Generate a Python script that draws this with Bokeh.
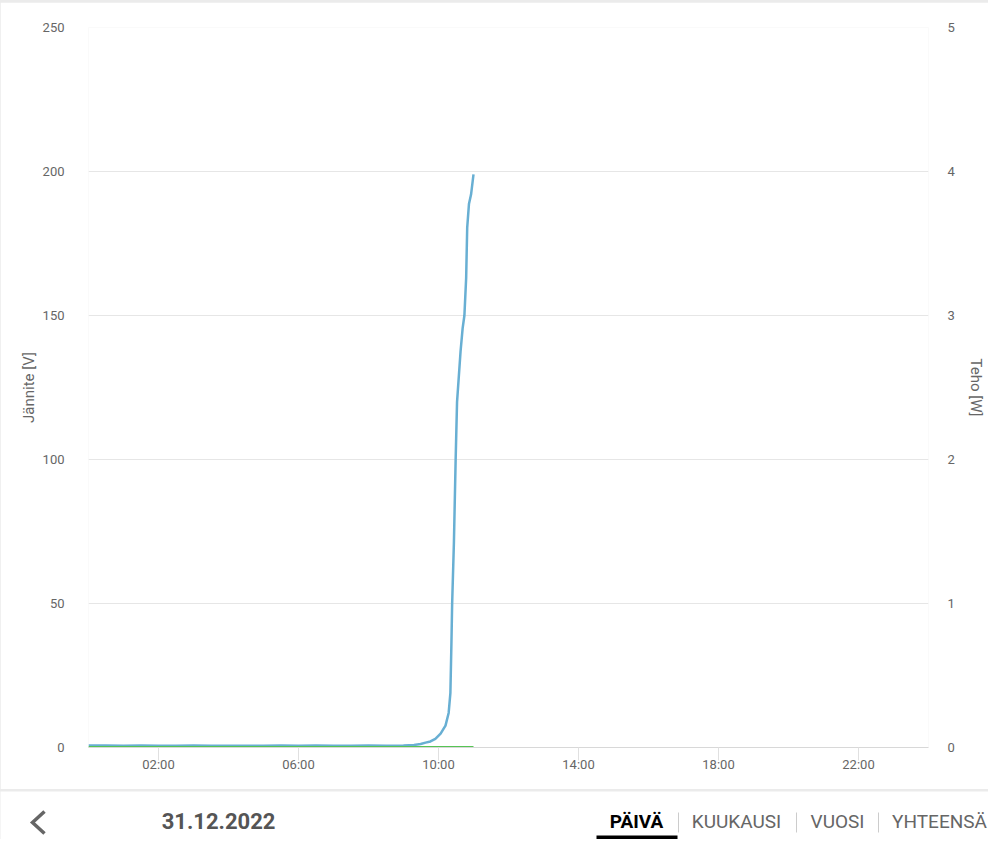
from bokeh.plotting import figure
from bokeh.models import Range1d, LinearAxis, FixedTicker, ColumnDataSource, Spacer
from bokeh.layouts import column
from bokeh.embed import file_html
from bokeh.resources import INLINE
from bokeh.core.properties import value

# ---- data ----
volt_hours = [0.0, 0.5, 1.0, 1.5, 2.0, 2.5, 3.0, 3.5, 4.0, 4.5, 5.0, 5.5, 6.0, 6.5, 7.0,
              7.5, 8.0, 8.5, 9.0, 9.3, 9.49, 9.63, 9.77, 9.91, 10.06, 10.2, 10.29, 10.34,
              10.37, 10.39, 10.44, 10.49, 10.53, 10.63, 10.69, 10.74, 10.79, 10.82,
              10.87, 10.93, 11.0]
volt_values = [0.7, 0.7, 0.6, 0.7, 0.6, 0.6, 0.7, 0.6, 0.6, 0.6, 0.6, 0.7, 0.6, 0.7, 0.6,
               0.6, 0.7, 0.6, 0.7, 0.9, 1.2, 1.7, 2.1, 3.0, 4.8, 7.6, 12.0, 19.0,
               36.6, 50.0, 71.0, 100.0, 120.0, 137.5, 145.6, 150.0, 163.0, 180.5,
               188.7, 192.0, 199.0]
power_hours = [0.0, 2.0, 4.0, 6.0, 8.0, 10.0, 11.0]
power_values = [0.0, 0.0, 0.0, 0.0, 0.0, 0.0, 0.0]

x_tick_hours = [2, 6, 10, 14, 18, 22]
x_tick_labels = ["02:00", "06:00", "10:00", "14:00", "18:00", "22:00"]
volt_ticks = [0, 50, 100, 150, 200, 250]
power_ticks = [0, 1, 2, 3, 4, 5]

left_title = "Jännite [V]"
right_title = "Teho [W]"
date_label = "31.12.2022"
tab_labels = ["PÄIVÄ", "KUUKAUSI", "VUOSI", "YHTEENSÄ"]

FONT = "Roboto"
TXT = "#666666"
W = 988

# ---- chart ----
p = figure(width=W, height=787, x_range=Range1d(0, 24), y_range=Range1d(0, 250),
           output_backend="svg", toolbar_location=None,
           min_border_left=88, min_border_right=W - 928, min_border_top=25, min_border_bottom=42)
p.frame_align = False
p.outline_line_color = None
p.background_fill_color = "white"
p.border_fill_color = "white"
p.extra_y_ranges = {"power": Range1d(0, 5)}

p.xgrid.grid_line_color = None
p.ygrid.grid_line_color = "#e6e6e6"
p.ygrid.grid_line_width = 1
p.ygrid.ticker = FixedTicker(ticks=volt_ticks)

xa = p.xaxis[0]
xa.ticker = FixedTicker(ticks=x_tick_hours)
xa.major_label_overrides = {h: l for h, l in zip(x_tick_hours, x_tick_labels)}
xa.axis_line_color = "#d8d8d8"
xa.major_tick_line_color = "#e0e0e0"
xa.major_tick_in = 0
xa.major_tick_out = 13
xa.minor_tick_line_color = None
xa.major_label_standoff = -4
xa.major_label_text_font = FONT
xa.major_label_text_font_size = "13px"
xa.major_label_text_color = TXT

ya = p.yaxis[0]
ya.ticker = FixedTicker(ticks=volt_ticks)
ya.axis_line_color = None
ya.major_tick_line_color = None
ya.minor_tick_line_color = None
ya.major_label_standoff = 18
ya.major_label_text_font = FONT
ya.major_label_text_font_size = "13px"
ya.major_label_text_color = TXT
ya.axis_label = left_title
ya.axis_label_standoff = 2
ya.axis_label_text_font = FONT
ya.axis_label_text_font_size = "15px"
ya.axis_label_text_font_style = "normal"
ya.axis_label_text_color = TXT

ra = LinearAxis(y_range_name="power", ticker=FixedTicker(ticks=power_ticks))
ra.axis_line_color = None
ra.major_tick_line_color = None
ra.minor_tick_line_color = None
ra.major_label_standoff = 13
ra.major_label_text_font = FONT
ra.major_label_text_font_size = "13px"
ra.major_label_text_color = TXT
ra.axis_label = right_title
ra.axis_label_standoff = 9
ra.axis_label_text_font = FONT
ra.axis_label_text_font_size = "15px"
ra.axis_label_text_font_style = "normal"
ra.axis_label_text_color = TXT
p.add_layout(ra, "right")

p.line(volt_hours, volt_values, line_color="#68afd3", line_width=2.5, line_join="round")
p.line(power_hours, power_values, y_range_name="power", line_color="#56c454", line_width=3)

# ---- bottom bar ----
b = figure(width=W, height=48, x_range=Range1d(0, W), y_range=Range1d(839, 791),
           output_backend="svg", toolbar_location=None,
           min_border=0, min_border_left=0, min_border_right=0, min_border_top=0, min_border_bottom=0)
b.frame_align = False
b.axis.visible = False
b.grid.visible = False
b.outline_line_color = None
b.background_fill_color = "white"
b.border_fill_color = "white"

b.line(x=[44, 32, 44], y=[811, 822, 833], line_color="#666666", line_width=3.5, line_join="miter")
b.text(x=[218], y=[820], text=[date_label], text_font=value(FONT), text_font_size="22px",
       text_font_style="bold", text_color="#555555", text_align="center", text_baseline="middle")

tab_x = [636, 736, 837, 939]
tab_src = ColumnDataSource(dict(x=tab_x, y=[821] * 4, t=tab_labels,
                                c=["#000000", TXT, TXT, TXT],
                                s=["bold", "normal", "normal", "normal"]))
b.text(x="x", y="y", text="t", text_color="c", text_font_style="s", source=tab_src,
       text_font=value(FONT), text_font_size="19px", text_align="center", text_baseline="middle")
b.segment(x0=[678, 796, 878], y0=[812] * 3, x1=[678, 796, 878], y1=[832] * 3,
          line_color="#cccccc", line_width=1)
b.quad(left=[596], right=[677], top=[835], bottom=[839], fill_color="black", line_color=None)

layout = column(Spacer(width=W, height=2), p, Spacer(width=W, height=2), b, spacing=0,
                width=W, sizing_mode="fixed", styles={"background-color": "#ebebeb"})

open("out.html", "w").write(file_html(layout, INLINE))
